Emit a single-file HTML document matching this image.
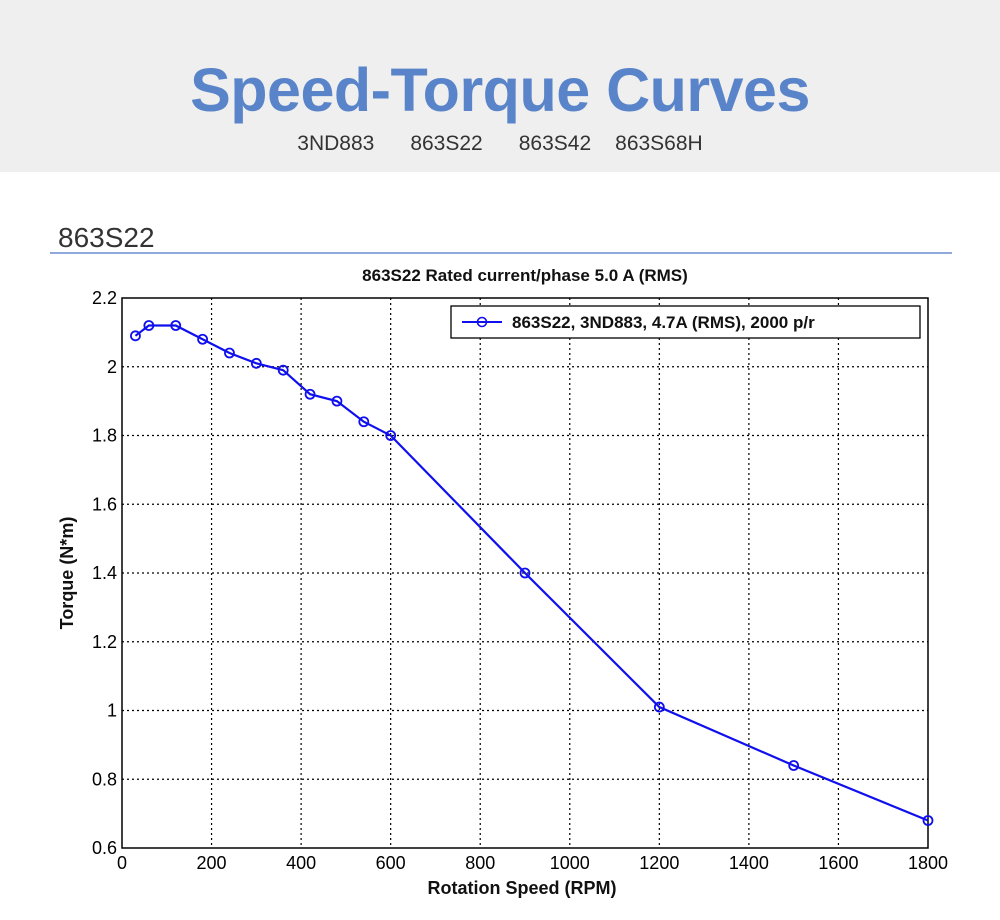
<!DOCTYPE html>
<html><head><meta charset="utf-8"><style>
body{margin:0;width:1000px;height:920px;background:#fff;font-family:"Liberation Sans",Arial,sans-serif;overflow:hidden;position:relative}
#hdr{position:absolute;left:0;top:0;width:1000px;height:172px;background:#efefef}
#title{position:absolute;top:55px;width:1000px;text-align:center;font-size:61px;font-weight:bold;color:#5a84c9;letter-spacing:-0.5px}
#sub{position:absolute;top:132px;width:1000px;text-align:center;font-size:21px;color:#333}
#sub span{margin:0 18px}
#model{position:absolute;left:58px;top:222px;font-size:28px;color:#333}
#rule{position:absolute;left:50px;top:252px;width:902px;height:2px;background:#8fa9dd}
svg{position:absolute;left:0;top:0}
</style></head><body>
<div id="hdr"></div>
<div id="title">Speed-Torque Curves</div>
<div id="sub"><span>3ND883</span><span>863S22</span><span>863S42</span><span style="margin-left:6px">863S68H</span></div>
<div id="model">863S22</div>
<div id="rule"></div>
<svg id="chart" width="1000" height="920"></svg>
<script>
const speeds=[30,60,120,180,240,300,360,420,480,540,600,900,1200,1500,1800];
const torques=[2.09,2.12,2.12,2.08,2.04,2.01,1.99,1.92,1.90,1.84,1.80,1.40,1.01,0.84,0.68];
const xTicks=[0,200,400,600,800,1000,1200,1400,1600,1800];
const yTicks=[0.6,0.8,1,1.2,1.4,1.6,1.8,2,2.2];
const L=122,R=928,T=298,B=848;
const sx=v=>L+(v-0)/(1800-0)*(R-L);
const sy=v=>B-(v-0.6)/(2.2-0.6)*(B-T);
const svg=document.getElementById('chart');
const NS='http://www.w3.org/2000/svg';
function mk(t,a,txt){const e=document.createElementNS(NS,t);for(const k in a)e.setAttribute(k,a[k]);if(txt!==undefined)e.textContent=txt;svg.appendChild(e);return e;}
let e;
e=mk('rect',{x:L,y:T,width:R-L,height:B-T,fill:'#fff',stroke:'none'});


xTicks.forEach(v=>{
  if(v>0&&v<1800){e=mk('line',{x1:sx(v),x2:sx(v),y1:T,y2:B,stroke:'#000','stroke-width':1.2,'stroke-dasharray':'2,3'});
  
  }
  e=mk('text',{x:sx(v),y:B+21,'text-anchor':'middle','font-size':18,fill:'#000'},String(v));
  
  
});
yTicks.forEach(v=>{
  if(v>0.6&&v<2.2){e=mk('line',{x1:L,x2:R,y1:sy(v),y2:sy(v),stroke:'#000','stroke-width':1.2,'stroke-dasharray':'2,3'});
  
  }
  e=mk('text',{x:L-5,y:sy(v)+6,'text-anchor':'end','font-size':18,fill:'#000'},String(v));
  
  
});
e=mk('rect',{x:L,y:T,width:R-L,height:B-T,fill:'none',stroke:'#000','stroke-width':1.5});


e=mk('polyline',{points:speeds.map((s,i)=>sx(s)+','+sy(torques[i])).join(' '),fill:'none',stroke:'#1010ee','stroke-width':2.2});


speeds.forEach((s,i)=>{e=mk('circle',{cx:sx(s),cy:sy(torques[i]),r:4.5,fill:'none',stroke:'#1010ee','stroke-width':1.8});

});
e=mk('text',{x:525,y:281,'text-anchor':'middle','font-size':17,'font-weight':'bold',fill:'#111'},'863S22 Rated current/phase 5.0 A (RMS)');


e=mk('text',{x:522,y:894,'text-anchor':'middle','font-size':18,'font-weight':'bold',fill:'#111'},'Rotation Speed (RPM)');


e=mk('text',{x:73,y:573,'text-anchor':'middle','font-size':18,'font-weight':'bold',fill:'#111',transform:'rotate(-90 73 573)'},'Torque (N*m)');


e=mk('rect',{x:451,y:306,width:469,height:32,fill:'#fff',stroke:'#000','stroke-width':1.3});


e=mk('line',{x1:462,x2:502,y1:322,y2:322,stroke:'#1010ee','stroke-width':2});


e=mk('circle',{cx:482,cy:322,r:4.5,fill:'none',stroke:'#1010ee','stroke-width':1.6});


e=mk('text',{x:512,y:328,'font-size':17,'font-weight':'bold',fill:'#111'},'863S22, 3ND883, 4.7A (RMS), 2000 p/r');


</script>
</body></html>
